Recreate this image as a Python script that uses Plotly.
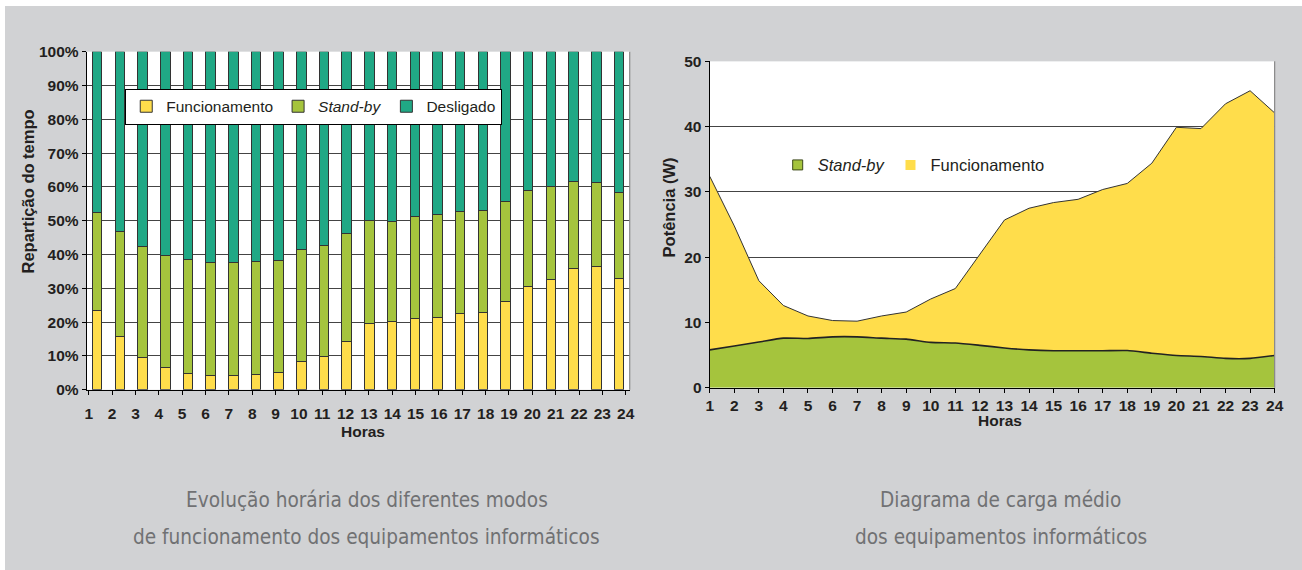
import plotly.graph_objects as go

# ---------------- data ----------------
hours = list(range(1, 25))

# left chart: share of time (%) in each mode
pct_funcionamento = [23.5, 15.6, 9.4, 6.5, 4.8, 4.2, 4.2, 4.6, 5.0, 8.2, 9.9, 14.1,
                     19.5, 20.2, 21.0, 21.4, 22.5, 22.9, 26.1, 30.4, 32.7, 35.9, 36.5, 32.8]
pct_standby = [28.8, 31.2, 32.8, 33.1, 33.7, 33.4, 33.4, 33.3, 33.3, 33.3, 32.8, 32.1,
               30.6, 29.6, 30.1, 30.3, 30.3, 30.1, 29.4, 28.6, 27.4, 25.7, 24.8, 25.6]
pct_desligado = [47.7, 53.2, 57.8, 60.4, 61.5, 62.4, 62.4, 62.1, 61.7, 58.5, 57.3, 53.8,
                 49.9, 50.2, 48.9, 48.3, 47.2, 47.0, 44.5, 41.0, 39.9, 38.4, 38.7, 41.6]

# right chart: average power (W)
w_standby = [5.8, 6.4, 7.0, 7.6, 7.55, 7.8, 7.8, 7.6, 7.45, 6.95, 6.85, 6.5,
             6.1, 5.8, 5.67, 5.67, 5.67, 5.7, 5.3, 4.95, 4.8, 4.5, 4.5, 4.95]
w_funcionamento = [26.6, 18.4, 9.4, 5.0, 3.45, 2.5, 2.4, 3.4, 4.15, 6.65, 8.35, 14.0,
                   19.6, 21.7, 22.7, 23.2, 24.7, 25.6, 29.1, 34.95, 34.9, 39.0, 41.0, 37.15]

pct_ticks = list(range(0, 101, 10))
pct_labels = [f"{v}%" for v in pct_ticks]
w_ticks = list(range(0, 51, 10))

# ---------------- style ----------------
PAGE_W, PAGE_H, OFF = 1302, 570, 8      # browser keeps an 8px body margin
W, H = PAGE_W - 2 * OFF, PAGE_H - 2 * OFF
YELLOW = "#FFDD4B"
LIME = "#A5C43D"
TEAL = "#20A885"
EDGE = "#333333"
TXT = "#231F20"
BG = "#D1D2D4"
FONT = "Liberation Sans, Arial, sans-serif"
CAP_FONT = "Liberation Sans Narrow, DejaVu Sans Condensed, Roboto Condensed, Open Sans, sans-serif"

# correction for the way the page ends up in the photograph
SX, BX, SY, BY = 0.99, 3.3, 0.969, 9.6


def X(p):
    return (p - BX) / SX


def Y(p):
    return (p - BY) / SY


def px_x(p):
    return (X(p) - OFF) / W


def px_y(p):
    return 1 - (Y(p) - OFF) / H


def fs(s):
    return round(s / SY, 1)


fig = go.Figure()

# left chart: stacked bars
for name, vals, col in [("Funcionamento", pct_funcionamento, YELLOW),
                        ("<i>Stand-by</i>", pct_standby, LIME),
                        ("Desligado", pct_desligado, TEAL)]:
    fig.add_trace(go.Bar(x=hours, y=vals, name=name, width=0.42,
                         marker=dict(color=col, line=dict(color=EDGE, width=1)),
                         xaxis="x", yaxis="y", legend="legend"))

# invisible trace carrying the hour labels of the left chart
fig.add_trace(go.Scatter(x=hours, y=[None] * len(hours), xaxis="x3", yaxis="y",
                         mode="lines", showlegend=False, hoverinfo="skip"))

# right chart: stacked areas
fig.add_trace(go.Scatter(x=hours, y=w_standby, stackgroup="w", mode="lines",
                         line=dict(color="#222222", width=1.6, shape="spline", smoothing=0.6),
                         fillcolor=LIME, showlegend=False, xaxis="x2", yaxis="y2"))
fig.add_trace(go.Scatter(x=hours, y=w_funcionamento, stackgroup="w", mode="lines",
                         line=dict(color="#333333", width=1),
                         fillcolor=YELLOW, showlegend=False, xaxis="x2", yaxis="y2"))
# legend entries of the right chart
fig.add_trace(go.Scatter(x=[None], y=[None], mode="markers", name="<i>Stand-by</i>",
                         marker=dict(symbol="square", size=10, color=LIME,
                                     line=dict(color="#3d4a1a", width=1)),
                         xaxis="x2", yaxis="y2", legend="legend2"))
fig.add_trace(go.Scatter(x=[None], y=[None], mode="markers", name="Funcionamento",
                         marker=dict(symbol="square", size=10, color=YELLOW,
                                     line=dict(width=0)),
                         xaxis="x2", yaxis="y2", legend="legend2"))

tickfont = dict(family=FONT, size=fs(15), color=TXT, weight="bold")

# axes geometry (reference pixels)
L_left, L_right, L_top, L_bot = 86, 629, 52, 390
R_left, R_right, R_top, R_bot = 709, 1274, 61.7, 388

bar_first, bar_last = 96.7, 618.5     # centres of the first / last bar
lab_first, lab_last = 88, 625         # centres of the first / last hour label
bar_step = (X(bar_last) - X(bar_first)) / 23
lab_step = (X(lab_last) - X(lab_first)) / 23
plot_w = X(L_right) - X(L_left)
bar_x0 = 1 - (X(bar_first) - X(L_left)) / bar_step
lab_x0 = 1 - (X(lab_first) - X(L_left)) / lab_step

fig.update_layout(
    width=W, height=H,
    margin=dict(l=0, r=0, t=0, b=0),
    paper_bgcolor=BG, plot_bgcolor="white",
    barmode="stack", bargap=0,
    showlegend=True,
    xaxis=dict(domain=[px_x(L_left), px_x(L_right)], anchor="y",
               range=[bar_x0, bar_x0 + plot_w / bar_step],
               showticklabels=False, ticks="", showgrid=False, zeroline=False,
               showline=True, linecolor="black", linewidth=1.2),
    xaxis3=dict(overlaying="x", anchor="y", side="bottom",
                range=[lab_x0, lab_x0 + plot_w / lab_step],
                tickmode="array", tickvals=hours, ticktext=[str(h) for h in hours],
                ticks="outside", ticklen=4, tickcolor="black",
                ticklabelstandoff=6,
                tickfont=tickfont, showgrid=False, zeroline=False, showline=False),
    yaxis=dict(domain=[px_y(L_bot), px_y(L_top)], anchor="x", range=[0, 100],
               tickmode="array", tickvals=pct_ticks, ticktext=pct_labels,
               ticks="outside", ticklen=4, tickcolor="black",
               tickfont=tickfont, showgrid=True, gridcolor="#444444", gridwidth=1,
               zeroline=False, showline=True, linecolor="black", linewidth=1.2),
    xaxis2=dict(domain=[px_x(R_left), px_x(R_right)], anchor="y2", range=[1, 24],
                tickmode="array", tickvals=hours, ticks="outside", ticklen=4,
                tickcolor="black", tickfont=tickfont, showgrid=False, zeroline=False,
                showline=True, linecolor="black", linewidth=1.2),
    yaxis2=dict(domain=[px_y(R_bot), px_y(R_top)], anchor="x2", range=[0, 50],
                tickmode="array", tickvals=w_ticks, ticks="outside", ticklen=4,
                tickcolor="black", tickfont=tickfont, showgrid=True,
                gridcolor="#444444", gridwidth=1, zeroline=False,
                showline=True, linecolor="black", linewidth=1.2),
    legend=dict(orientation="h", x=px_x(313), y=px_y(89), xanchor="center", yanchor="top",
                bgcolor="white", bordercolor="black", borderwidth=1,
                font=dict(family=FONT, size=fs(15), color=TXT), traceorder="normal"),
    legend2=dict(orientation="h", x=px_x(777), y=px_y(148), xanchor="left", yanchor="top",
                 bgcolor="rgba(0,0,0,0)", borderwidth=0,
                 font=dict(family=FONT, size=fs(16), color=TXT), traceorder="normal"),
)

# frame lines on the right of both plots
fig.add_shape(type="line", xref="x domain", yref="y domain", x0=1, x1=1, y0=0, y1=1,
              line=dict(color="#888888", width=1.2))
fig.add_shape(type="line", xref="x2 domain", yref="y2 domain", x0=1, x1=1, y0=0, y1=1,
              line=dict(color="#888888", width=1.2))

title_font = dict(family=FONT, size=fs(16), color=TXT, weight="bold")
ann = dict(xref="paper", yref="paper", showarrow=False, xanchor="center", yanchor="middle")
fig.add_annotation(text="Repartição do tempo", x=px_x(27), y=px_y(192), textangle=-90,
                   font=title_font, **ann)
fig.add_annotation(text="Horas", x=px_x(362), y=px_y(432),
                   font=dict(family=FONT, size=fs(15), color=TXT, weight="bold"), **ann)
fig.add_annotation(text="Potência (W)", x=px_x(668), y=px_y(208), textangle=-90,
                   font=title_font, **ann)
fig.add_annotation(text="Horas", x=px_x(999), y=px_y(421),
                   font=dict(family=FONT, size=fs(15), color=TXT, weight="bold"), **ann)

cap_font = dict(family=CAP_FONT, size=fs(20), color="#707173")
for txt, cx, cy in [("Evolução horária dos diferentes modos", 366, 500),
                    ("de funcionamento dos equipamentos informáticos", 366, 537),
                    ("Diagrama de carga médio", 1000, 500),
                    ("dos equipamentos informáticos", 1000, 537)]:
    fig.add_annotation(text=txt, x=px_x(cx), y=px_y(cy), font=cap_font, **ann)

fig.write_html(
    "out.html",
    config={"displayModeBar": False},
    post_script=(
        "document.documentElement.style.background="
        "'linear-gradient(to bottom, #ffffff 6px, rgba(0,0,0,0) 6px),"
        " linear-gradient(to right, #ffffff 5px, " + BG + " 5px)';"
        "document.body.style.background='transparent';"
    ),
)
